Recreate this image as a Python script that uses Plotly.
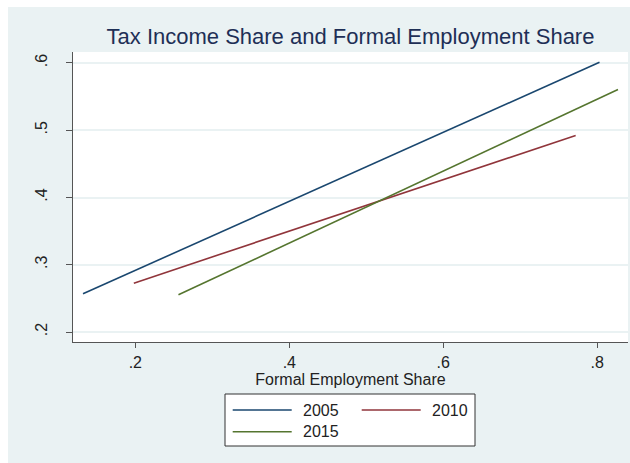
import plotly.graph_objects as go

# Fitted lines: tax income share vs formal employment share, by year
years = ["2005", "2010", "2015"]
x_start = [0.132, 0.198, 0.256]
x_end = [0.803, 0.772, 0.827]
y_start = [0.2568, 0.2727, 0.2553]
y_end = [0.601, 0.4923, 0.5605]
colors = ["#1a476f", "#90353b", "#55752f"]

x_ticks = [0.2, 0.4, 0.6, 0.8]
x_tick_text = [".2", ".4", ".6", ".8"]
y_ticks = [0.2, 0.3, 0.4, 0.5, 0.6]
y_tick_text = [".2", ".3", ".4", ".5", ".6"]

W, H = 630, 463
L, R, T, B = 73, 2, 52, 121
PW, PH = W - L - R, H - T - B


def px_x(px):
    return (px - L) / PW


def px_y(py):
    return (H - B - py) / PH


BG = "#eaf2f3"
FONT = "Liberation Sans, Arial, sans-serif"
TXT = 16

fig = go.Figure()
for yr, xs, xe, ys, ye, c in zip(years, x_start, x_end, y_start, y_end, colors):
    fig.add_trace(go.Scatter(x=[xs, xe], y=[ys, ye], mode="lines", name=yr,
                             line=dict(color=c, width=1.6), showlegend=False))

shapes = [
    # white outer strips on the top and left edges
    dict(type="rect", xref="paper", yref="paper", x0=px_x(-5), x1=px_x(W + 5),
         y0=px_y(7), y1=px_y(-5), fillcolor="white", line_width=0, layer="above"),
    dict(type="rect", xref="paper", yref="paper", x0=px_x(-5), x1=px_x(8),
         y0=px_y(H + 5), y1=px_y(-5), fillcolor="white", line_width=0, layer="above"),
    # legend box
    dict(type="rect", xref="paper", yref="paper", x0=px_x(225), x1=px_x(475),
         y0=px_y(446), y1=px_y(394), fillcolor="white",
         line=dict(color="#333333", width=1)),
]
annotations = []
legend_pos = [(232.7, 410), (361.7, 410), (232.7, 431.7)]
for yr, c, (lx, ly) in zip(years, colors, legend_pos):
    shapes.append(dict(type="line", xref="paper", yref="paper", x0=px_x(lx), x1=px_x(lx + 59),
                       y0=px_y(ly), y1=px_y(ly), line=dict(color=c, width=1.6)))
    annotations.append(dict(text=yr, xref="paper", yref="paper", x=px_x(lx + 68), y=px_y(ly),
                            xanchor="left", yanchor="middle", showarrow=False,
                            font=dict(family=FONT, size=TXT, color="#222222")))

fig.update_layout(
    width=W, height=H,
    margin=dict(l=L, r=R, t=T, b=B),
    paper_bgcolor=BG, plot_bgcolor="white",
    showlegend=False,
    title=dict(text="Tax Income Share and Formal Employment Share",
               x=0.5, xref="paper", xanchor="center",
               y=1 - 36 / H, yref="container", yanchor="middle",
               font=dict(family=FONT, size=22, color="#1e2f56")),
    font=dict(family=FONT, size=TXT, color="#222222"),
    shapes=shapes, annotations=annotations,
    xaxis=dict(range=[0.119, 0.840], tickvals=x_ticks, ticktext=x_tick_text,
               showgrid=False, zeroline=False, showline=True, linecolor="#555555",
               linewidth=1, ticks="outside", ticklen=5, tickcolor="#555555",
               ticklabelstandoff=1,
               title=dict(text="Formal Employment Share", standoff=0,
                          font=dict(family=FONT, size=TXT, color="#222222"))),
    yaxis=dict(range=[0.1852, 0.6163], tickvals=y_ticks, ticktext=y_tick_text,
               tickangle=-90, showgrid=True, gridcolor=BG, gridwidth=1.5,
               zeroline=False, showline=True, linecolor="#555555", linewidth=1,
               ticks="outside", ticklen=6, tickcolor="#555555",
               ticklabelstandoff=13),
)

fig.write_html("out.html")
